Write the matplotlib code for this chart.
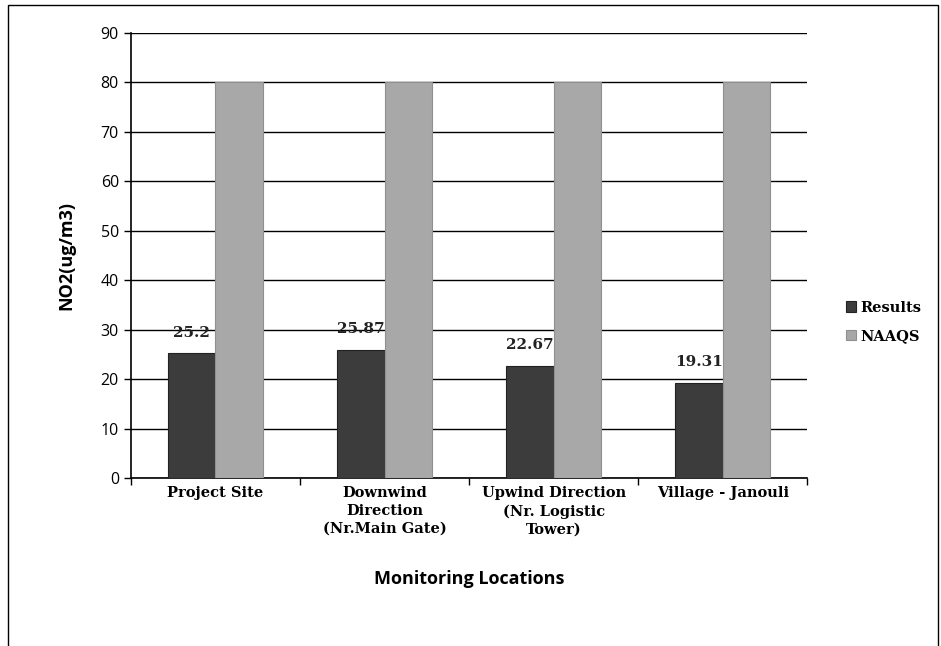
import matplotlib
matplotlib.use("Agg")
import matplotlib.pyplot as plt
import numpy as np
from matplotlib.patches import Rectangle

categories = ["Project Site", "Downwind\nDirection\n(Nr.Main Gate)", "Upwind Direction\n(Nr. Logistic\nTower)", "Village - Janouli"]
results = [25.2, 25.87, 22.67, 19.31]
naaqs = [80, 80, 80, 80]
result_labels = ["25.2", "25.87", "22.67", "19.31"]

fig = plt.figure(figsize=(9.41, 6.46), dpi=100)
ax = fig.add_axes([0.139, 0.260, 0.719, 0.689])

x = np.arange(len(categories))
w = 0.28
ax.bar(x - w/2, results, w, color="#3c3c3c", edgecolor="#222222", linewidth=0.8, label="Results", zorder=3)
ax.bar(x + w/2, naaqs, w, color="#a8a8a8", edgecolor="#909090", linewidth=0.8, label="NAAQS", zorder=3)

for xi, v, t in zip(x, results, result_labels):
    ax.text(xi - w/2, v + 2.8, t, ha="center", va="bottom", fontsize=11, fontweight="bold",
            family="DejaVu Serif", color="#222222", zorder=4)

ax.set_xlim(-0.5, len(categories) - 0.5)
ax.set_ylim(0, 90)
ax.set_yticks(range(0, 91, 10))
ax.yaxis.grid(True, color="black", linewidth=1.0)
ax.set_axisbelow(True)
ax.set_xticks(np.arange(-0.5, len(categories), 1.0), minor=False)
ax.set_xticklabels([])
ax.set_xticks(x, minor=True)
ax.set_xticklabels(categories, minor=True, fontsize=10.5, fontweight="bold", family="DejaVu Serif", linespacing=1.35)
ax.tick_params(axis="x", which="minor", length=0, pad=6)
ax.tick_params(axis="x", which="major", length=5, direction="out", width=1)
ax.tick_params(axis="y", length=5, direction="out", labelsize=11.5, width=1)
for lbl in ax.get_yticklabels():
    lbl.set_family("Open Sans")
for s in ["top", "right"]:
    ax.spines[s].set_visible(False)
ax.spines["left"].set_linewidth(1.2)
ax.spines["bottom"].set_linewidth(1.2)

ax.set_ylabel("NO2(ug/m3)", fontsize=13, fontweight="bold", family="Open Sans", labelpad=18)
ax.set_xlabel("Monitoring Locations", fontsize=13, fontweight="bold", family="Open Sans", labelpad=24)

leg = fig.legend(loc="upper left", bbox_to_anchor=(0.885, 0.555), frameon=False,
                 prop={"family": "DejaVu Serif", "weight": "bold", "size": 10.5},
                 handlelength=0.7, handleheight=0.7, handletextpad=0.3, labelspacing=1.0)

fig.patches.append(Rectangle((0.009, -0.01), 0.988, 1.003, transform=fig.transFigure,
                             fill=False, edgecolor="black", linewidth=1.0))

fig.savefig("out.png", dpi=100)
